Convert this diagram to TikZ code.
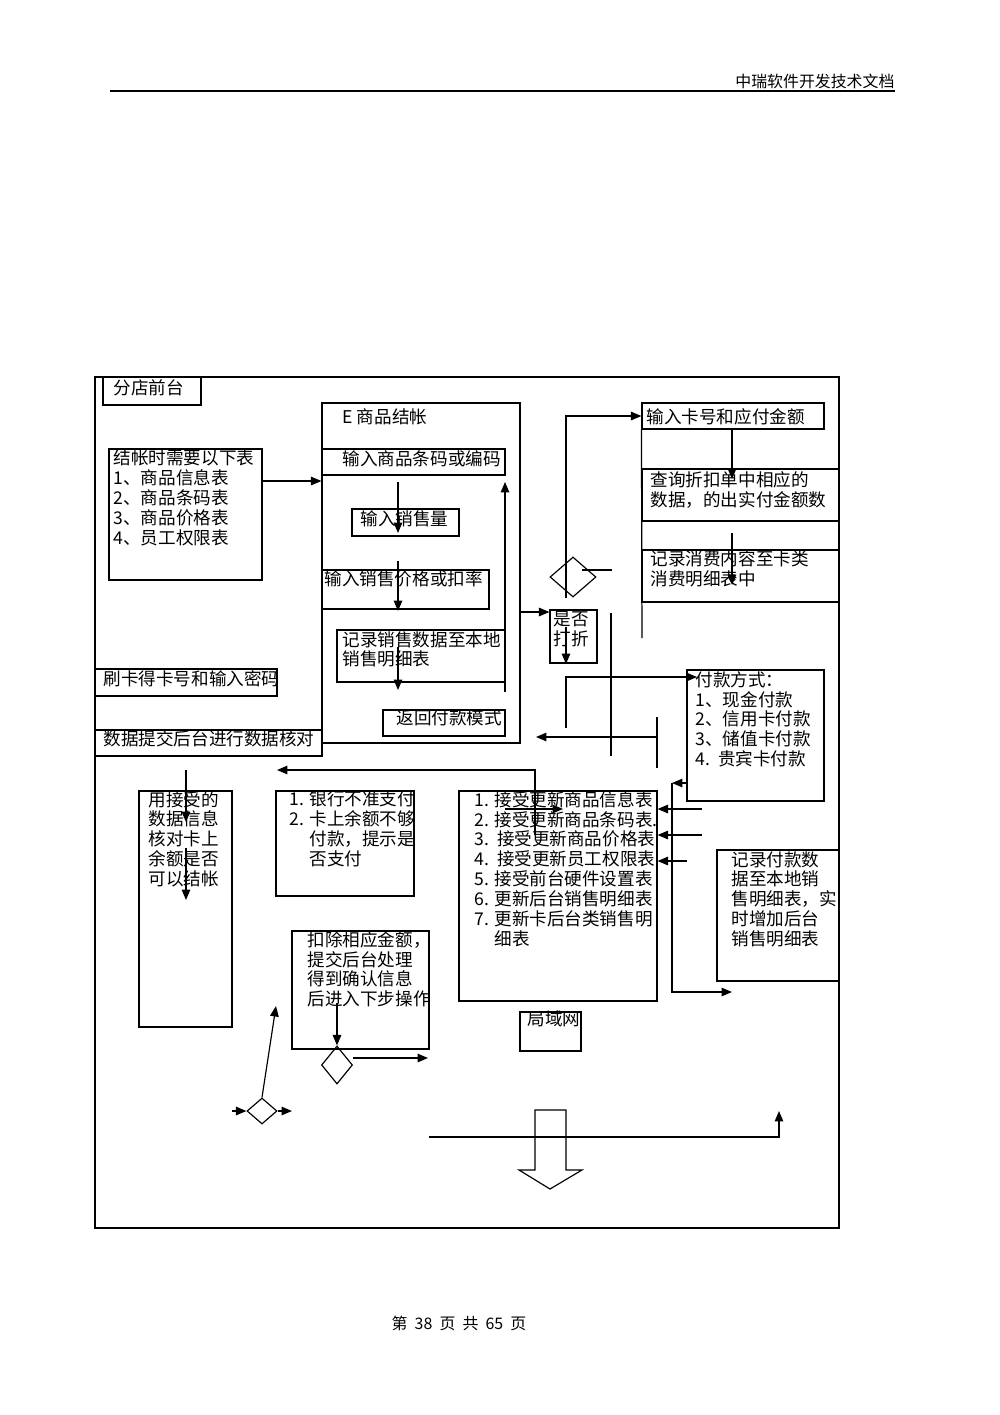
\documentclass[tikz,border=0pt]{standalone}
\usepackage{fontspec}
\setmainfont{Noto Sans CJK SC}
\usepackage{tikz}
\usetikzlibrary{arrows.meta,fit,shapes.geometric}
\def\px{0.021cm}
\begin{document}
\begin{tikzpicture}[x=\px, y=-\px, line width=0.7pt,
  >={Triangle[length=2.2mm,width=1.8mm]},
  tbox/.style={draw, inner sep=0pt},
  ttext/.style={anchor=north west, inner sep=0pt, yshift=0.05cm, align=left, font=\fontsize{10.5}{11.9}\selectfont},
  dia/.style 2 args={diamond, draw, inner sep=0pt, minimum width=#1*\px, minimum height=#2*\px}]
  \useasboundingbox (0,0) rectangle (1000,1415);
  \node[anchor=base east, inner sep=0pt, font=\fontsize{9.5}{10}\selectfont] (head) at (895,87) {中瑞软件开发技术文档};
  \draw[line width=1.2pt] (110,91) -- (head.base east |- 0,91);
  \node[inner sep=0pt, font=\fontsize{9.5}{10}\selectfont] (foot) at (459,1323) {第\hspace{0.45em}38\hspace{0.45em}页\hspace{0.45em}共\hspace{0.45em}65\hspace{0.45em}页};

  \node[tbox, fit={(95,377) (839,1228)}] (frame) {};
  \node[tbox, fit={(103,377) (201,405)}] (store) {};
  \node[ttext] (store-t) at (113,381) {分店前台};
  \node[tbox, fit={(322,403) (520,743)}] (eframe) {};
  \node[ttext] (eframe-t) at (342,410) {E 商品结帐};
  \node[tbox, fit={(109,449) (262,580)}] (need) {};
  \node[ttext] (need-t) at (113,452) {结帐时需要以下表\\1、商品信息表\\2、商品条码表\\3、商品价格表\\4、员工权限表};
  \node[tbox, fit={(322,449) (505,475)}] (code) {};
  \node[ttext] (code-t) at (342,452) {输入商品条码或编码};
  \node[tbox, fit={(352,509) (459,536)}] (qty) {};
  \node[ttext] (qty-t) at (360,512) {输入销售量};
  \node[tbox, fit={(322,570) (489,609)}] (price) {};
  \node[ttext] (price-t) at (324,572) {输入销售价格或扣率};
  \node[tbox, fit={(337,630) (505,682)}] (rec) {};
  \node[ttext] (rec-t) at (342,633) {记录销售数据至本地\\销售明细表};
  \node[tbox, fit={(383,710) (505,736)}] (back) {};
  \node[ttext] (back-t) at (396,712) {返回付款模式};
  \node[tbox, fit={(95,669) (277,696)}] (swipe) {};
  \node[ttext] (swipe-t) at (103,672) {刷卡得卡号和输入密码};
  \node[tbox, fit={(95,730) (322,756)}] (submit) {};
  \node[ttext] (submit-t) at (103,732) {数据提交后台进行数据核对};
  \node[tbox, fit={(550,610) (597,663)}] (disc) {};
  \node[ttext] (disc-t) at (553,613) {是否\\打折};
  \node[dia={46}{40}] (chk) at (573,577) {};
  \node[tbox, fit={(642,403) (824,429)}] (card) {};
  \node[ttext] (card-t) at (646,410) {输入卡号和应付金额};
  \node[tbox, fit={(642,469) (839,521)}] (query) {};
  \node[ttext] (query-t) at (650,473) {查询折扣单中相应的\\数据，的出实付金额数};
  \node[tbox, fit={(642,550) (839,602)}] (cons) {};
  \node[ttext] (cons-t) at (650,552) {记录消费内容至卡类\\消费明细表中};
  \node[tbox, fit={(687,670) (824,801)}] (pay) {};
  \node[ttext] (pay-t) at (695,673) {付款方式：\\1、现金付款\\2、信用卡付款\\3、储值卡付款\\4.\ \ 贵宾卡付款};
  \node[tbox, fit={(139,791) (232,1027)}] (verify) {};
  \node[ttext] (verify-t) at (148,793) {用接受的\\数据信息\\核对卡上\\余额是否\\可以结帐};
  \node[tbox, fit={(276,791) (414,896)}] (fail) {};
  \node[ttext] (fail-t) at (289,793) {1. 银行不准支付\\2. 卡上余额不够\\\phantom{2. }付款，提示是\\\phantom{2. }否支付};
  \node[tbox, fit={(292,931) (429,1049)}] (deduct) {};
  \node[ttext] (deduct-t) at (307,933) {扣除相应金额，\\提交后台处理\\得到确认信息\\后进入下步操作};
  \node[dia={31}{38}] (ok) at (337,1065) {};
  \node[dia={30}{26}] (pass) at (262,1111) {};
  \node[tbox, fit={(459,791) (657,1001)}] (upd) {};
  \node[ttext] (upd-t) at (474,793) {1. 接受更新商品信息表\\2. 接受更新商品条码表.\\3.\ \ 接受更新商品价格表\\4.\ \ 接受更新员工权限表\\5. 接受前台硬件设置表\\6. 更新后台销售明细表\\7. 更新卡后台类销售明\\\phantom{7. }细表};
  \node[tbox, fit={(520,1012) (581,1051)}] (lan) {};
  \node[ttext] (lan-t) at (527,1013) {局域网};
  \node[tbox, fit={(717,850) (839,981)}] (log) {};
  \node[ttext] (log-t) at (731,853) {记录付款数\\据至本地销\\售明细表，实\\时增加后台\\销售明细表};

  \draw[->] (need.east |- 0,481) -- (eframe.west |- 0,481);
  \draw[->] (398,482) -- (398,533);
  \draw[->] (398,561) -- (398,611);
  \draw[->] (398,647) -- (398,690);
  \draw[->] (505,692) -- (505,482);
  \draw[->] (eframe.east |- 0,612) -- (disc.west |- 0,612);
  \draw[->] (566,627) -- (566,664);
  \draw[->] (566,598) |- (card.west);
  \draw (582,570) -- (612,570);
  \draw[->] (732,429) -- (732,479);
  \draw[->] (732,533) -- (732,585);
  \draw (card.south west) -- (642,638);
  \draw (611,613) -- (611,756);
  \draw[->] (566,728) |- (697,677);
  \draw (657,717) -- (657,768);
  \draw[->] (657,737) -- (536,737);
  \draw[->] (pay.west |- 0,783) -- (672,783);
  \draw[->] (672,783) |- (732,992);
  \draw[->] (702,809) -- (upd.east |- 0,809);
  \draw[->] (702,835) -- (upd.east |- 0,835);
  \draw[->] (687,861) -- (upd.east |- 0,861);
  \draw[->] (535,835) |- (277,770);
  \draw[->] (505,809) -- (563,809);
  \draw[->] (186,770) -- (186,822);
  \draw[->] (186,848) -- (186,900);
  \draw[->] (337,1003) -- (ok.north);
  \draw[->] (353,1058) -- (428,1058);
  \draw[->] (232,1111) -- (pass.west);
  \draw[->] (pass.east) -- (292,1111);
  \draw[->] (pass.north) -- (276,1006);
  \draw[->] (429,1137) -| (779,1111);
  \draw (535,1110) -- (535,1170) -- (519,1170) -- (550,1189) -- (582,1170) -- (566,1170) -- (566,1110) -- cycle;
\end{tikzpicture}
\end{document}
